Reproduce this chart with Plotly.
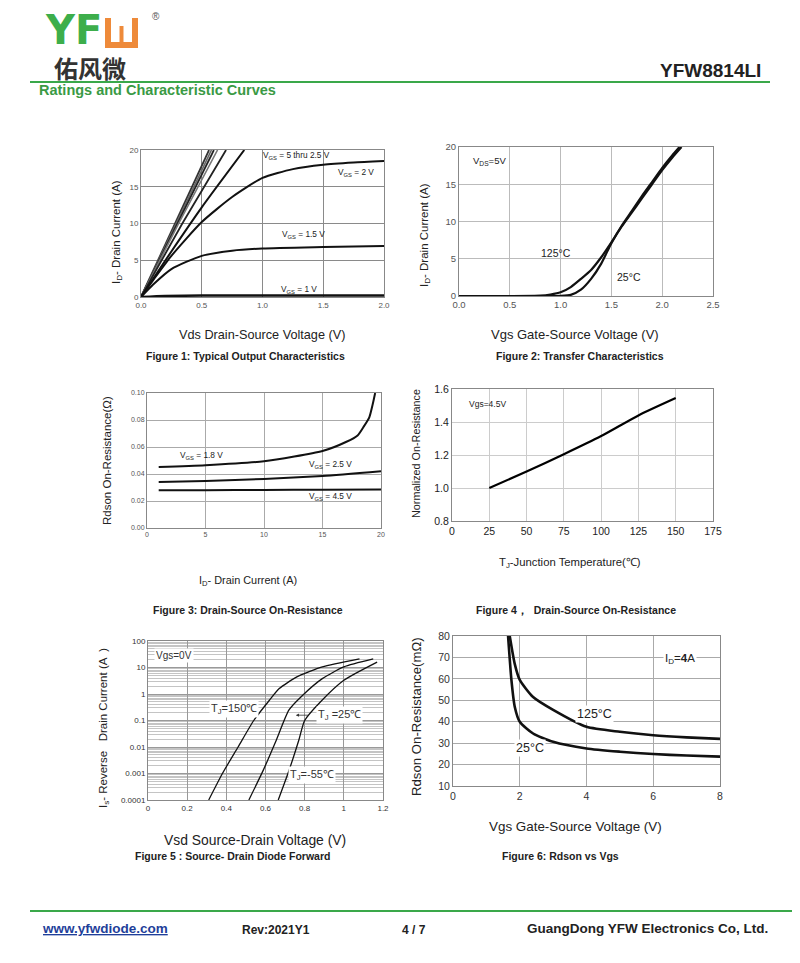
import plotly.graph_objects as go

W, H = 800, 963
OFF = 8  # the page body adds an 8px margin; compensate so pixels match
FONT = "Liberation Sans, Arial, sans-serif"
GREEN = "#3aa84a"

# ---------------- Data ----------------
# Figure 1: output characteristics (Vds, Id)
f1_vds_5 = [0, 0.28, 0.56]
f1_id_5 = [0, 10, 20]
f1_vds_45 = [0, 0.29, 0.58]
f1_id_45 = [0, 10, 20]
f1_vds_4 = [0, 0.30, 0.60]
f1_id_4 = [0, 10, 20]
f1_vds_35 = [0, 0.31, 0.63]
f1_id_35 = [0, 10, 20]
f1_vds_3 = [0, 0.34, 0.70]
f1_id_3 = [0, 10, 20]
f1_vds_25 = [0, 0.25, 0.5, 0.85]
f1_id_25 = [0, 6.2, 12.2, 20]
f1_vds_2 = [0, 0.1, 0.25, 0.5, 0.75, 1.0, 1.25, 1.5, 1.75, 2.0]
f1_id_2 = [0, 2.3, 5.6, 10.2, 13.6, 16.2, 17.4, 18.0, 18.3, 18.5]
f1_vds_15 = [0, 0.1, 0.25, 0.5, 0.75, 1.0, 1.5, 2.0]
f1_id_15 = [0, 1.7, 3.8, 5.6, 6.3, 6.6, 6.8, 6.95]
f1_vds_1 = [0, 0.2, 0.5, 1.0, 2.0]
f1_id_1 = [0, 0.15, 0.2, 0.2, 0.2]

# Figure 2: transfer characteristics
f2_vgs_25 = [0, 0.5, 1.0, 1.1, 1.2, 1.3, 1.4, 1.5, 1.6, 1.7, 1.8, 1.9, 2.0, 2.1, 2.17]
f2_id_25 = [0, 0, 0.02, 0.15, 0.85, 2.3, 4.35, 7.1, 9.4, 11.4, 13.4, 15.3, 17.2, 18.9, 20]
f2_vgs_125 = [0, 0.5, 0.8, 0.9, 1.0, 1.1, 1.2, 1.3, 1.4, 1.5, 1.6, 1.7, 1.8, 1.9, 2.0, 2.1, 2.19]
f2_id_125 = [0, 0, 0.05, 0.2, 0.5, 1.2, 2.3, 3.5, 5.2, 7.2, 9.3, 11.2, 13.1, 15.0, 16.9, 18.6, 20]

# Figure 3: on-resistance vs drain current
f3_id_18 = [1, 5, 10, 15, 17, 18, 18.5, 19, 19.3, 19.5]
f3_r_18 = [0.0452, 0.0465, 0.0494, 0.057, 0.0637, 0.0686, 0.0748, 0.082, 0.092, 0.10]
f3_id = [1, 5, 10, 15, 20]
f3_r_25 = [0.034, 0.0348, 0.0363, 0.0385, 0.042]
f3_r_45 = [0.0279, 0.028, 0.0282, 0.0284, 0.0286]

# Figure 4: normalized on-resistance vs temperature
f4_tj = [25, 50, 75, 100, 125, 150]
f4_rn = [1.0, 1.1, 1.205, 1.315, 1.44, 1.545]

# Figure 5: source-drain diode forward
f5_v_150 = [0.31, 0.38, 0.46, 0.54, 0.62, 0.67, 0.76, 0.89, 1.08]
f5_is_150 = [1e-4, 1e-3, 1e-2, 1e-1, 0.58, 1.6, 4.4, 10.5, 21]
f5_v_25 = [0.515, 0.59, 0.655, 0.72, 0.79, 0.89, 1.0, 1.15]
f5_is_25 = [1e-4, 1.4e-3, 1.8e-2, 0.25, 0.9, 3.8, 10.5, 21]
f5_v_m55 = [0.665, 0.72, 0.77, 0.80, 0.88, 1.0, 1.17]
f5_is_m55 = [1e-4, 1.3e-3, 1.8e-2, 0.1, 0.5, 3.3, 16]
f5_tickvals = [1e-4, 1e-3, 1e-2, 0.1, 1, 10, 100]
f5_ticktext = ["0.0001", "0.001", "0.01", "0.1", "1", "10", "100"]

# Figure 6: Rdson vs Vgs
f6_vgs_125 = [1.7, 1.85, 2.0, 2.4, 3.0, 4.0, 5.0, 6.0, 7.0, 8.0]
f6_r_125 = [80, 67, 59.5, 51.5, 45.5, 37.6, 35.3, 33.7, 32.7, 32]
f6_vgs_25 = [1.65, 1.75, 1.85, 2.0, 2.4, 3.0, 4.0, 5.0, 6.0, 7.0, 8.0]
f6_r_25 = [80, 59.5, 47, 40, 34.5, 30.6, 27.5, 26, 24.9, 24.2, 23.7]


def px(x):
    return (x - OFF) / W


def py(y):
    return 1 - (y - OFF) / H


fig = go.Figure()


def line(x, y, ax, color="#111", width=2, shape="spline", smoothing=0.6):
    fig.add_trace(go.Scatter(x=x, y=y, mode="lines", xaxis="x" + ax, yaxis="y" + ax,
                             line=dict(color=color, width=width, shape=shape,
                                       smoothing=smoothing if shape == "spline" else None),
                             showlegend=False, hoverinfo="skip"))


# Fig 1
line(f1_vds_5, f1_id_5, "", "#333", 1.8, "linear")
line(f1_vds_45, f1_id_45, "", "#666", 1.6, "linear")
line(f1_vds_4, f1_id_4, "", "#222", 1.8, "linear")
line(f1_vds_35, f1_id_35, "", "#777", 1.6, "linear")
line(f1_vds_3, f1_id_3, "", "#222", 1.8, "linear")
line(f1_vds_25, f1_id_25, "", "#111", 2, "spline")
line(f1_vds_2, f1_id_2, "", "#111", 2)
line(f1_vds_15, f1_id_15, "", "#111", 2)
line(f1_vds_1, f1_id_1, "", "#111", 2.5)
# Fig 2
line(f2_vgs_125, f2_id_125, "2", "#111", 2.2)
line(f2_vgs_25, f2_id_25, "2", "#111", 2.2)
# Fig 3
line(f3_id_18, f3_r_18, "3", "#111", 2)
line(f3_id, f3_r_25, "3", "#111", 2)
line(f3_id, f3_r_45, "3", "#111", 2)
# Fig 4
line(f4_tj, f4_rn, "4", "#000", 2.2)
# Fig 5
line(f5_v_150, f5_is_150, "5", "#111", 1.3)
line(f5_v_25, f5_is_25, "5", "#111", 1.3)
line(f5_v_m55, f5_is_m55, "5", "#111", 1.3)
# Fig 6
line(f6_vgs_125, f6_r_125, "6", "#111", 2.6)
line(f6_vgs_25, f6_r_25, "6", "#111", 2.6)


def axis(domain, rng, dtick=None, fmt=None, grid="#999", size=8, color="#555", anchor=None, **kw):
    d = dict(domain=domain, range=rng, showgrid=True, gridcolor=grid, gridwidth=1,
             zeroline=False, showline=True, linecolor="#888", linewidth=1, mirror=True,
             ticks="", tickfont=dict(family=FONT, size=size, color=color),
             fixedrange=True, anchor=anchor, automargin=False)
    if dtick is not None:
        d["dtick"] = dtick
        d["tick0"] = 0
    if fmt:
        d["tickformat"] = fmt
    d.update(kw)
    return d


layout = dict(
    width=W, height=H, autosize=False, showlegend=False,
    margin=dict(l=0, r=0, t=0, b=0, pad=0, autoexpand=False),
    paper_bgcolor="white", plot_bgcolor="white",
    font=dict(family=FONT),
    xaxis=axis([px(141), px(384)], [0, 2], 0.5, ".1f", "#8a8a8a", 8, anchor="y"),
    yaxis=axis([py(297), py(150)], [0, 20], 5, None, "#8a8a8a", 8, anchor="x"),
    xaxis2=axis([px(459), px(713)], [0, 2.5], 0.5, ".1f", "#bbb", 9.5, anchor="y2"),
    yaxis2=axis([py(296), py(147)], [0, 20], 5, None, "#bbb", 9.5, anchor="x2"),
    xaxis3=axis([px(147), px(381)], [0, 20], 5, None, "#aaa", 7, anchor="y3"),
    yaxis3=axis([py(528), py(393)], [0, 0.10], 0.02, ".2f", "#aaa", 7, anchor="x3"),
    xaxis4=axis([px(452), px(713)], [0, 175], 25, None, "#ccc", 10.5, "#222", anchor="y4"),
    yaxis4=axis([py(521), py(389)], [0.8, 1.6], 0.2, ".1f", "#ccc", 10.5, "#222", anchor="x4"),
    xaxis5=axis([px(148), px(383)], [0, 1.2], 0.2, None, "#999", 8, "#333", anchor="y5"),
    yaxis5=axis([py(800), py(641)], [-4, 2], None, None, "#999", 8, "#333", anchor="x5",
                type="log", tickvals=f5_tickvals, ticktext=f5_ticktext,
                minor=dict(dtick="D1", showgrid=True, gridcolor="#c4c4c4", gridwidth=1, ticks="")),
    xaxis6=axis([px(453), px(720)], [0, 8], 2, None, "#aaa", 10.5, "#333", anchor="y6"),
    yaxis6=axis([py(786), py(636)], [10, 80], 10, None, "#aaa", 10.5, "#333", anchor="x6"),
)
fig.update_layout(**layout)

ann = []


def text(x, y, s, size=10, color="#222", bold=False, xanchor="center", yanchor="middle",
         xref="paper", yref="paper", angle=0, bg=None, fam=FONT):
    if xref == "paper":
        x = px(x)
    if yref == "paper":
        y = py(y)
    if bold:
        s = "<b>" + s + "</b>"
    a = dict(x=x, y=y, xref=xref, yref=yref, text=s, showarrow=False,
             font=dict(family=fam, size=size, color=color), xanchor=xanchor,
             yanchor=yanchor, textangle=angle)
    if bg:
        a["bgcolor"] = bg
    ann.append(a)


# Header
text(43, 30, "YF", 40, "#3dae4b", True, "left", fam="DejaVu Sans")
text(52, 67, "佑风微", 24, "#333", True, "left", fam="Noto Sans CJK SC")
text(150, 16, "®", 10, "#555", False, "left")
text(763, 70, "YFW8814LI", 19, "#222", True, "right")
text(37, 90, "Ratings and Characteristic Curves", 14.5, "#3a9a44", True, "left")

# Footer
text(40, 928, "<u>www.yfwdiode.com</u>", 13.5, "#1f3f9a", True, "left")
text(240, 930, "Rev:2021Y1", 12, "#222", True, "left")
text(400, 930, "4 / 7", 12, "#222", True, "left")
text(770, 928, "GuangDong YFW Electronics Co, Ltd.", 13.5, "#222", True, "right")

# Fig 1 texts
text(117, 232, "I<sub>D</sub>- Drain Current (A)", 11.5, "#222", angle=-90)
text(262, 335, "Vds Drain-Source Voltage (V)", 12.7, "#222")
text(245, 356, "Figure 1: Typical Output Characteristics", 10.5, "#222", True)
text(1.28, 19.3, "V<sub>GS</sub> = 5 thru 2.5 V", 8.3, "#222", xref="x", yref="y")
text(1.77, 17.0, "V<sub>GS</sub> = 2 V", 8.3, "#222", xref="x", yref="y")
text(1.34, 8.5, "V<sub>GS</sub> = 1.5 V", 8.3, "#222", xref="x", yref="y")
text(1.3, 1.0, "V<sub>GS</sub> = 1 V", 8.3, "#222", xref="x", yref="y")

# Fig 2 texts
text(425, 235, "I<sub>D</sub>- Drain Current (A)", 11.5, "#222", angle=-90)
text(575, 335, "Vgs Gate-Source Voltage (V)", 13, "#222")
text(580, 356, "Figure 2: Transfer Characteristics", 10.5, "#222", True)
text(0.3, 18.1, "V<sub>DS</sub>=5V", 9.5, "#222", xref="x2", yref="y2")
text(0.95, 5.8, "125°C", 10.5, "#222", xref="x2", yref="y2")
text(1.67, 2.6, "25°C", 10.5, "#222", xref="x2", yref="y2")

# Fig 3 texts
text(107, 461, "Rdson On-Resistance(Ω)", 11.5, "#222", angle=-90)
text(248, 581, "I<sub>D</sub>- Drain Current (A)", 10.9, "#222")
text(248, 610, "Figure 3: Drain-Source On-Resistance", 10.5, "#222", True)
text(4.7, 0.0538, "V<sub>GS</sub> = 1.8 V", 8.3, "#222", xref="x3", yref="y3")
text(15.65, 0.0470, "V<sub>GS</sub> = 2.5 V", 8.3, "#222", xref="x3", yref="y3")
text(15.65, 0.0235, "V<sub>GS</sub> = 4.5 V", 8.3, "#222", xref="x3", yref="y3")

# Fig 4 texts
text(416, 454, "Normalized On-Resistance", 10.8, "#222", angle=-90)
text(570, 563, "T<sub>J</sub>-Junction Temperature(℃)", 11.3, "#222")
text(576, 610, "Figure 4，  Drain-Source On-Resistance", 10.5, "#222", True)
text(23.5, 1.51, "Vgs=4.5V", 8.5, "#222", xref="x4", yref="y4")

# Fig 5 texts
text(104, 728, "I<sub>s</sub>- Reverse   Drain Current (A  )", 11.5, "#222", angle=-90)
text(255, 840, "Vsd Source-Drain Voltage (V)", 13.9, "#222")
text(232, 856, "Figure 5 : Source- Drain Diode Forward", 10.5, "#222", True)
text(0.135, 1.46, "Vgs=0V", 10, "#333", xref="x5", yref="y5", bg="white")
text(0.44, -0.58, "T<sub>J</sub>=150℃", 11, "#333", xref="x5", yref="y5", bg="white")
text(0.98, -0.80, "T<sub>J</sub> =25℃", 11, "#333", xref="x5", yref="y5", bg="white")
text(0.835, -3.06, "T<sub>J</sub>=-55℃", 11, "#333", xref="x5", yref="y5", bg="white")
ann.append(dict(x=0.755, y=-0.80, xref="x5", yref="y5", ax=14, ay=0, text="",
                showarrow=True, arrowhead=2, arrowsize=0.8, arrowwidth=0.8, arrowcolor="#333"))

# Fig 6 texts
text(416, 717, "Rdson On-Resistance(mΩ)", 13.2, "#222", angle=-90)
text(575, 826, "Vgs Gate-Source Voltage (V)", 13.4, "#222")
text(560, 856, "Figure 6: Rdson vs Vgs", 10.5, "#222", True)
text(4.25, 43.5, "125°C", 12.5, "#222", xref="x6", yref="y6", bg="white")
text(2.3, 27.8, "25°C", 12.5, "#222", xref="x6", yref="y6", bg="white")
text(6.8, 69.4, "I<sub>D</sub>=<b>4</b>A", 11.5, "#222", xref="x6", yref="y6", bg="white")

fig.update_layout(annotations=ann)

# Shapes: header/footer lines and logo block
shapes = [
    dict(type="line", xref="paper", yref="paper", x0=px(30), x1=px(770), y0=py(82), y1=py(82),
         line=dict(color=GREEN, width=2.2)),
    dict(type="line", xref="paper", yref="paper", x0=px(30), x1=px(792), y0=py(911), y1=py(911),
         line=dict(color=GREEN, width=2.2)),
    dict(type="rect", xref="paper", yref="paper", x0=px(105), x1=px(138), y0=py(48), y1=py(18),
         fillcolor="#ee8a3a", line=dict(width=0)),
    dict(type="rect", xref="paper", yref="paper", x0=px(111), x1=px(132), y0=py(42), y1=py(18),
         fillcolor="white", line=dict(width=0)),
    dict(type="rect", xref="paper", yref="paper", x0=px(119.5), x1=px(123.5), y0=py(42), y1=py(26),
         fillcolor="#ee8a3a", line=dict(width=0)),
]
fig.update_layout(shapes=shapes)

fig.write_html("out.html")
